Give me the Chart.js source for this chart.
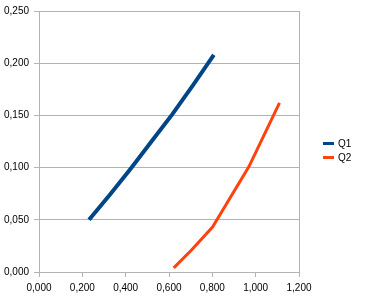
<!DOCTYPE html>
<html>
<head>
<meta charset="utf-8">
<script src="https://cdn.jsdelivr.net/npm/chart.js@4"></script>
<style>
  html, body { margin: 0; padding: 0; background: #fff; }
  #wrap { position: relative; width: 365px; height: 301px; }
  #legend { position: absolute; left: 323px; top: 136px; font: 10px "Liberation Sans", Arial, sans-serif; color: #000; }
  #legend .item { display: flex; align-items: center; height: 14.5px; }
  #legend .swatch { width: 11px; height: 3px; margin-right: 4px; }
</style>
</head>
<body>
<div id="wrap">
  <canvas id="chart" width="365" height="301"></canvas>
  <div id="legend"></div>
</div>
<script>
// Series data
const seriesNames = ["Q1", "Q2"];
const seriesColors = ["#004586", "#ff420e"];
const q1X = [0.231, 0.327, 0.423, 0.519, 0.615, 0.711, 0.807];
const q1Y = [0.050, 0.074, 0.099, 0.125, 0.151, 0.179, 0.208];
const q2X = [0.622, 0.704, 0.801, 0.969, 1.110];
const q2Y = [0.004, 0.021, 0.043, 0.101, 0.162];

const fmt = (v) => v.toFixed(3).replace(".", ",");
const grid = "#b3b3b3";

const toPoints = (xs, ys) => xs.map((x, i) => ({ x: x, y: ys[i] }));

// legend on the right, as plain html
document.getElementById("legend").innerHTML = seriesNames
  .map(
    (n, i) => `<div class="item"><span class="swatch" style="background:${seriesColors[i]}"></span>${n}</div>`
  )
  .join("");

new Chart(document.getElementById("chart").getContext("2d"), {
  type: "scatter",
  data: {
    datasets: [
      {
        label: seriesNames[0],
        data: toPoints(q1X, q1Y),
        showLine: true,
        borderColor: seriesColors[0],
        borderWidth: 4,
        pointRadius: 0,
      },
      {
        label: seriesNames[1],
        data: toPoints(q2X, q2Y),
        showLine: true,
        borderColor: seriesColors[1],
        borderWidth: 3,
        pointRadius: 0,
      },
    ],
  },
  options: {
    responsive: false,
    animation: false,
    layout: { padding: { top: 3, right: 66, left: 0, bottom: 0 } },
    plugins: {
      tooltip: { enabled: false },
      legend: { display: false },
    },
    scales: {
      x: {
        type: "linear",
        min: 0,
        max: 1.2,
        ticks: {
          stepSize: 0.2,
          callback: fmt,
          color: "#000",
          padding: 5,
          maxRotation: 0,
          font: { family: "Liberation Sans", size: 10 },
        },
        // only the right-hand edge line is drawn inside the plot
        grid: {
          color: (c) => (c.tick && c.tick.value === 1.2 ? grid : "rgba(0,0,0,0)"),
          tickColor: grid,
          tickLength: 5,
        },
        border: { color: grid },
        afterFit: (s) => { s.height = 29; },
      },
      y: {
        min: 0,
        max: 0.25,
        ticks: {
          stepSize: 0.05,
          callback: fmt,
          color: "#000",
          padding: 5,
          font: { family: "Liberation Sans", size: 10 },
        },
        grid: { color: grid, tickLength: 5 },
        border: { color: grid },
        afterFit: (s) => { s.width = 39; },
      },
    },
  },
});
</script>
</body>
</html>
